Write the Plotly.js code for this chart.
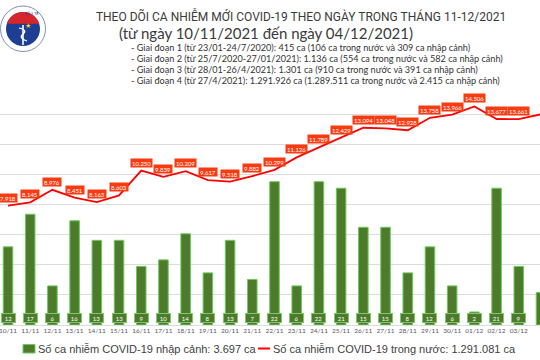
<!DOCTYPE html>
<html><head><meta charset="utf-8">
<script src="https://cdn.plot.ly/plotly-3.0.1.min.js"></script>
<style>html,body{margin:0;padding:0;background:#fff;overflow:hidden}</style>
</head><body><div id="chart" style="width:540px;height:360px"></div>
<script>
const dates = ['10/11','11/11','12/11','13/11','14/11','15/11','16/11','17/11','18/11','19/11','20/11','21/11','22/11','23/11','24/11','25/11','26/11','27/11','28/11','29/11','30/11','01/12','02/12','03/12','04/12'];
const domestic = [7918, 8145, 8976, 8451, 8163, 8603, 10250, 9839, 10209, 9617, 9518, 9882, 10299, 11126, 11789, 12429, 13094, 13048, 12928, 13758, 13966, 14506, 13677, 13661, 13987];
const imported = [12, 17, 6, 16, 13, 13, 9, 10, 14, 8, 13, 7, 22, 6, 22, 21, 15, 15, 8, 12, 6, 2, 21, 9, 5];
const titleLine1 = 'THEO DÕI CA NHIỄM MỚI COVID-19 THEO NGÀY TRONG THÁNG 11-12/2021';
const titleLine2 = '(từ ngày 10/11/2021 đến ngày 04/12/2021)';
const notes = [
  '- Giai đoạn 1 (từ 23/01-24/7/2020): 415 ca (106 ca trong nước và 309 ca nhập cảnh)',
  '- Giai đoạn 2 (từ 25/7/2020-27/01/2021): 1.136 ca (554 ca trong nước và 582 ca nhập cảnh)',
  '- Giai đoạn 3 (từ 28/01-26/4/2021): 1.301 ca (910 ca trong nước và 391 ca nhập cảnh)',
  '- Giai đoạn 4 (từ 27/4/2021): 1.291.926 ca (1.289.511 ca trong nước và 2.415 ca nhập cảnh)'
];
const legendImported = 'Số ca nhiễm COVID-19 nhập cảnh: 3.697 ca';
const legendDomestic = 'Số ca nhiễm COVID-19 trong nước: 1.291.081 ca';

const W = 540, H = 360, T = 84, B = 35;
const px = x => x / W;
const py = y => (H - B - y) / (H - T - B);
const fmt = v => String(v).replace(/\B(?=(\d{3})+(?!\d))/g, '.');
const bodyFont = 'Lato, sans-serif';
const titleFont = 'Roboto, sans-serif';
const legendFont = 'Liberation Sans, Arial, sans-serif';

const lineTrace = {
  type: 'scatter', mode: 'lines', x: dates, y: domestic, yaxis: 'y',
  name: legendDomestic, line: {color: '#FF0000', width: 1.8}, hoverinfo: 'skip'
};
const barTrace = {
  type: 'bar', x: dates, y: imported, yaxis: 'y2', width: 0.43,
  name: legendImported, marker: {color: '#4E7B2B', line: {color: '#6BCB5C', width: 1}}, hoverinfo: 'skip'
};

const annotations = [];
dates.forEach((d, i) => {
  annotations.push({
    x: d, y: domestic[i], xref: 'x', yref: 'y', text: fmt(domestic[i]), showarrow: false,
    yshift: 8, bgcolor: '#F93B12', borderpad: 1, height: 6,
    font: {family: bodyFont, size: 6, color: '#FFFFFF'}
  });
  annotations.push({
    x: d, y: 0, xref: 'x', yref: 'y2', yanchor: 'bottom', yshift: 2, text: String(imported[i]), showarrow: false,
    bgcolor: '#4E7B2B', bordercolor: '#7CC96B', borderwidth: 1, borderpad: 1, width: 11, height: 6,
    font: {family: bodyFont, size: 6, color: '#FFFFFF'}
  });
});
annotations.push({
  xref: 'paper', yref: 'paper', x: px(266), y: py(33), xanchor: 'center', yanchor: 'middle',
  text: titleLine2, showarrow: false, font: {family: bodyFont, size: 15, color: '#3A3A3A'}
});
notes.forEach((t, i) => {
  annotations.push({
    xref: 'paper', yref: 'paper', x: px(129), y: py(47 + i * 11.3), xanchor: 'left', yanchor: 'middle',
    text: t, showarrow: false, font: {family: bodyFont, size: 9.1, color: '#333333'}
  });
});
annotations.push({
  xref: 'paper', yref: 'paper', x: px(36), y: py(349), xanchor: 'left', yanchor: 'middle',
  text: legendImported, showarrow: false, font: {family: legendFont, size: 11, color: '#404040'}
});
annotations.push({
  xref: 'paper', yref: 'paper', x: px(271), y: py(349), xanchor: 'left', yanchor: 'middle',
  text: legendDomestic, showarrow: false, font: {family: legendFont, size: 11, color: '#404040'}
});
annotations.push({xref: 'paper', yref: 'paper', x: px(23), y: py(18.5), text: '★', showarrow: false,
  font: {size: 7, color: '#FFD200'}});
annotations.push({xref: 'paper', yref: 'paper', x: px(23), y: py(9), text: 'BỘ Y TẾ', showarrow: false,
  font: {family: legendFont, size: 3.5, color: '#1C3F94'}});

function circlePath(cx, cy, r, fromY) {
  const pts = [];
  const n = 40;
  for (let k = 0; k <= n; k++) {
    const a = Math.PI + Math.PI * k / n;
    const x = cx + r * Math.cos(a), y = cy + r * Math.sin(a);
    if (y <= fromY) pts.push([x, y]);
  }
  return 'M' + pts.map(p => px(p[0]) + ',' + py(p[1])).join(' L') + ' Z';
}
const shapes = [
  {type: 'circle', xref: 'paper', yref: 'paper', x0: px(0.5), x1: px(45.5), y0: py(51.5), y1: py(6),
   fillcolor: '#FFFFFF', line: {color: '#7F8FB5', width: 1}},
  {type: 'circle', xref: 'paper', yref: 'paper', x0: px(6), x1: px(40), y0: py(46), y1: py(12),
   fillcolor: '#1C3F94', line: {color: '#1C3F94', width: 0}},
  {type: 'path', xref: 'paper', yref: 'paper', path: circlePath(23, 29, 17, 24),
   fillcolor: '#D7262B', line: {width: 0}},
  {type: 'line', xref: 'paper', yref: 'paper', x0: px(23), x1: px(23), y0: py(25), y1: py(45),
   line: {color: '#FFFFFF', width: 1.6}},
  {type: 'path', xref: 'paper', yref: 'paper',
   path: `M${px(19)},${py(28)} Q${px(28)},${py(30)} ${px(23)},${py(34)} Q${px(18)},${py(38)} ${px(27)},${py(41)}`,
   line: {color: '#FFFFFF', width: 1.2}},
  {type: 'rect', xref: 'paper', yref: 'paper', x0: px(23), x1: px(35), y0: py(353), y1: py(344.5),
   fillcolor: '#4E7B2B', line: {color: '#6BCB5C', width: 1}},
  {type: 'line', xref: 'paper', yref: 'paper', x0: px(258), x1: px(270), y0: py(348.5), y1: py(348.5),
   line: {color: '#FF0000', width: 2}}
];

const layout = {
  width: W, height: H,
  margin: {l: 0, r: 0, t: T, b: B, pad: 0},
  paper_bgcolor: '#FFFFFF', plot_bgcolor: '#FFFFFF',
  showlegend: false,
  title: {text: titleLine1, x: px(301), xanchor: 'center', xref: 'container', y: 1 - 17 / H, yanchor: 'middle', yref: 'container',
          font: {family: titleFont, size: 12, color: '#3A3A3A'}},
  xaxis: {type: 'category', range: [-0.36, 23.955], showgrid: false, zeroline: false, showline: false, ticks: '',
          tickfont: {family: bodyFont, size: 6.5, color: '#595959'}, fixedrange: true},
  yaxis: {range: [0, 15999], dtick: 2000, tick0: 0, showticklabels: false, showgrid: true, gridcolor: '#DCDCDC', gridwidth: 1,
          zeroline: true, zerolinecolor: '#DCDCDC', zerolinewidth: 1, showline: false, ticks: ''},
  yaxis2: {range: [0, 37], overlaying: 'y', side: 'right', showgrid: false, zeroline: false, showticklabels: false, showline: false, ticks: ''},
  annotations: annotations,
  shapes: shapes
};
Plotly.newPlot('chart', [lineTrace, barTrace], layout, {displayModeBar: false, staticPlot: true});
</script>
</body></html>
